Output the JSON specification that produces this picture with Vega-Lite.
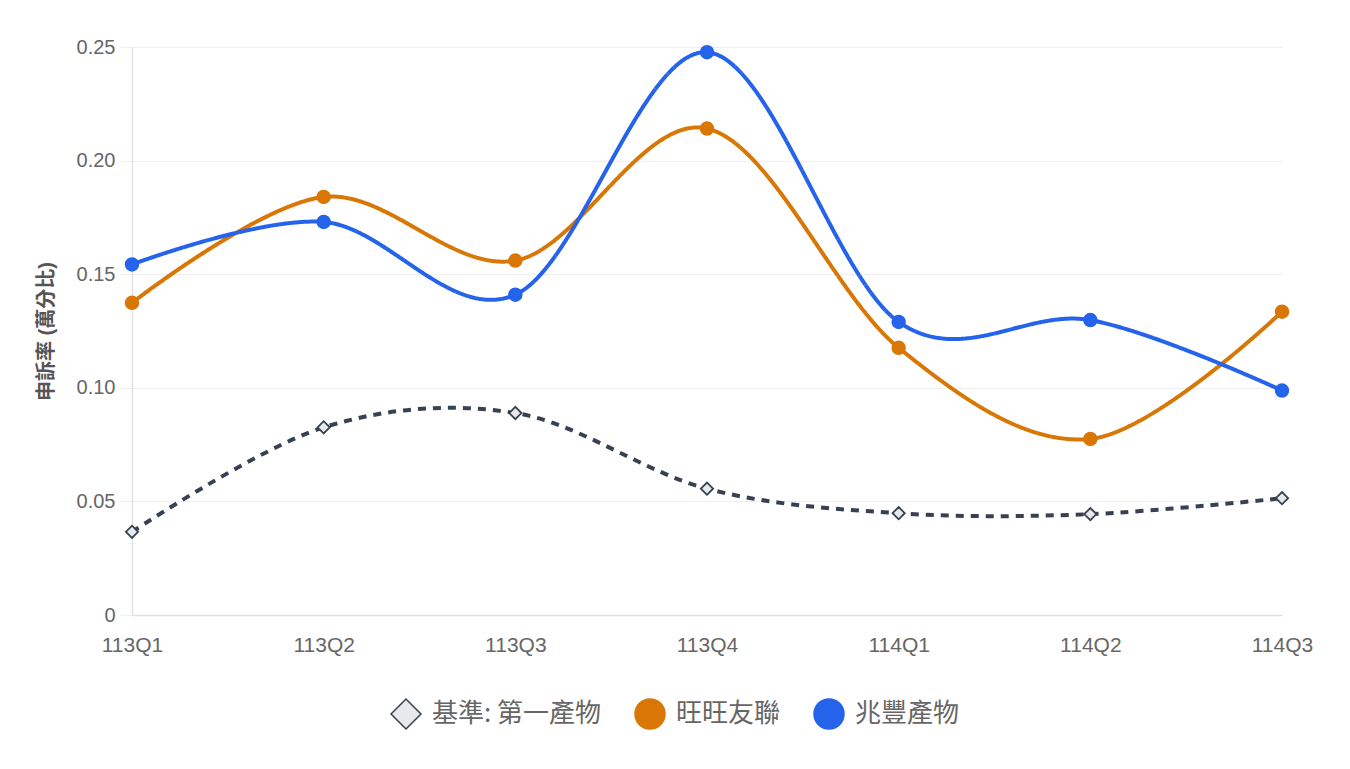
{
  "$schema": "https://vega.github.io/schema/vega-lite/v6.json",
  "width": 1350,
  "height": 769,
  "autosize": {"type": "fit", "contains": "padding"},
  "padding": {"left": 36, "right": 37, "top": 37, "bottom": 37},
  "background": "#ffffff",
  "data": {
    "values": [
      {"q": "113Q1", "series": "基準: 第一產物", "value": 0.0366},
      {"q": "113Q2", "series": "基準: 第一產物", "value": 0.0826},
      {"q": "113Q3", "series": "基準: 第一產物", "value": 0.0889},
      {"q": "113Q4", "series": "基準: 第一產物", "value": 0.0556},
      {"q": "114Q1", "series": "基準: 第一產物", "value": 0.0448},
      {"q": "114Q2", "series": "基準: 第一產物", "value": 0.0444},
      {"q": "114Q3", "series": "基準: 第一產物", "value": 0.0514},
      {"q": "113Q1", "series": "旺旺友聯", "value": 0.1374},
      {"q": "113Q2", "series": "旺旺友聯", "value": 0.1840},
      {"q": "113Q3", "series": "旺旺友聯", "value": 0.1560},
      {"q": "113Q4", "series": "旺旺友聯", "value": 0.2141},
      {"q": "114Q1", "series": "旺旺友聯", "value": 0.1176},
      {"q": "114Q2", "series": "旺旺友聯", "value": 0.0775},
      {"q": "114Q3", "series": "旺旺友聯", "value": 0.1335},
      {"q": "113Q1", "series": "兆豐產物", "value": 0.1543},
      {"q": "113Q2", "series": "兆豐產物", "value": 0.1730},
      {"q": "113Q3", "series": "兆豐產物", "value": 0.1410},
      {"q": "113Q4", "series": "兆豐產物", "value": 0.2477},
      {"q": "114Q1", "series": "兆豐產物", "value": 0.1290},
      {"q": "114Q2", "series": "兆豐產物", "value": 0.1298},
      {"q": "114Q3", "series": "兆豐產物", "value": 0.0988}
    ]
  },
  "encoding": {
    "x": {
      "field": "q",
      "type": "ordinal",
      "scale": {"type": "point", "padding": 0},
      "axis": {
        "title": null,
        "labelAngle": 0,
        "labelFontSize": 21,
        "labelColor": "#666666",
        "labelPadding": 19,
        "ticks": false,
        "grid": false,
        "domainColor": "#e2e2e2",
        "domainWidth": 1.5
      }
    },
    "y": {
      "field": "value",
      "type": "quantitative",
      "scale": {"domain": [0, 0.25], "nice": false},
      "axis": {
        "title": "申訴率 (萬分比)",
        "titleFontSize": 20,
        "titleFontWeight": "bold",
        "titleColor": "#555555",
        "titlePadding": 20,
        "values": [0, 0.05, 0.1, 0.15, 0.2, 0.25],
        "labelExpr": "datum.value == 0 ? '0' : format(datum.value, '.2f')",
        "labelFontSize": 20,
        "labelColor": "#666666",
        "labelPadding": 5,
        "tickSize": 12,
        "tickColor": "#eeeeee",
        "gridColor": "#efefef",
        "domainColor": "#e2e2e2",
        "domainWidth": 1.5
      }
    }
  },
  "layer": [
    {
      "mark": {"type": "line", "interpolate": "cardinal", "tension": 0, "strokeWidth": 4},
      "encoding": {
        "detail": {"field": "series", "type": "nominal"},
        "stroke": {
          "condition": [
            {"test": "datum.series === '旺旺友聯'", "value": "#d97706"},
            {"test": "datum.series === '兆豐產物'", "value": "#2563eb"}
          ],
          "value": "#374151"
        },
        "strokeDash": {
          "condition": {"test": "datum.series === '基準: 第一產物'", "value": [8, 7]},
          "value": [1, 0]
        }
      }
    },
    {
      "mark": {"type": "point", "filled": true, "opacity": 1},
      "encoding": {
        "shape": {
          "field": "series",
          "type": "nominal",
          "scale": {
            "domain": ["基準: 第一產物", "旺旺友聯", "兆豐產物"],
            "range": ["diamond", "circle", "circle"]
          },
          "legend": {"title": "\u3000\u3000"}
        },
        "fill": {
          "field": "series",
          "type": "nominal",
          "scale": {
            "domain": ["基準: 第一產物", "旺旺友聯", "兆豐產物"],
            "range": ["#e8e9eb", "#d97706", "#2563eb"]
          },
          "legend": {"title": "\u3000\u3000"}
        },
        "stroke": {
          "field": "series",
          "type": "nominal",
          "scale": {
            "domain": ["基準: 第一產物", "旺旺友聯", "兆豐產物"],
            "range": ["#374151", "#d97706", "#2563eb"]
          },
          "legend": {"title": "\u3000\u3000"}
        },
        "size": {
          "condition": {"test": "datum.series === '基準: 第一產物'", "value": 150},
          "value": 160
        },
        "strokeWidth": {"value": 1.8}
      }
    }
  ],
  "config": {
    "font": "'Liberation Sans', 'Noto Sans CJK TC', sans-serif",
    "view": {"stroke": null},
    "legend": {
      "orient": "bottom",
      "direction": "horizontal",
      "offset": 43,
      "symbolSize": 900,
      "symbolStrokeWidth": 1.5,
      "labelFontSize": 26,
      "labelLimit": 400,
      "labelColor": "#666666",
      "labelOffset": 10,
      "columnPadding": 30,
      "labelFont": "'Noto Sans CJK TC', sans-serif",
      "titleOrient": "right",
      "titleFont": "'Noto Sans CJK TC', sans-serif",
      "titleFontSize": 26,
      "titlePadding": 66,
      "layout": {"bottom": {"anchor": "middle"}}
    }
  }
}
